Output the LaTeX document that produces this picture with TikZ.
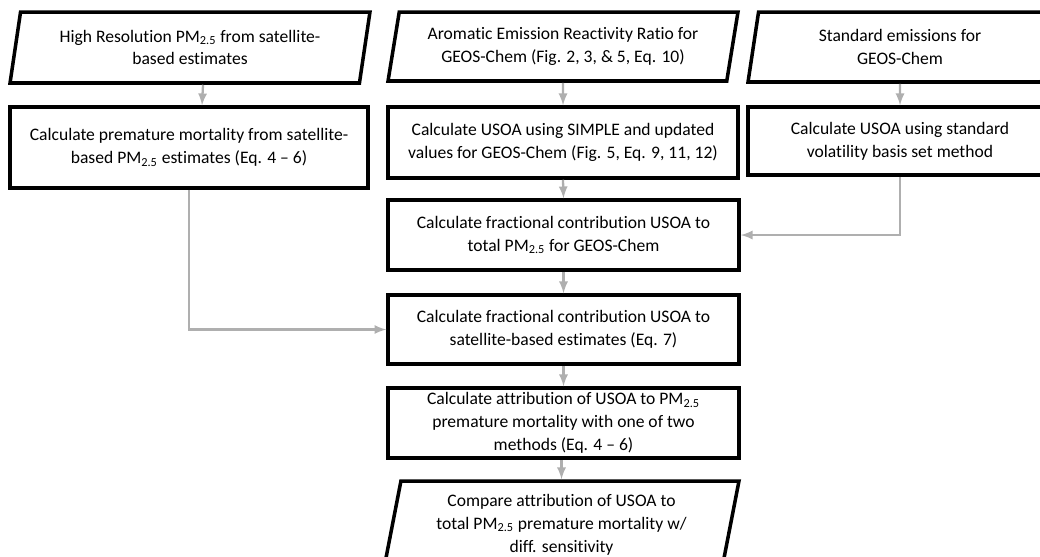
\documentclass[tikz,border=0pt]{standalone}
\usepackage{fontspec}
\setmainfont{Carlito}[Ligatures={NoCommon}]
\usepackage{tikz}
\usetikzlibrary{calc,shapes.geometric,arrows.meta,positioning}
\definecolor{arrowgray}{RGB}{175,175,175}
\tikzset{
  procbox/.style={rectangle,draw=black,line width=2pt,align=center,inner sep=2pt,font=\fontsize{10}{13}\selectfont},
  databox/.style={trapezium,trapezium left angle=76,trapezium right angle=104,trapezium stretches body,draw=black,line width=2pt,align=center,inner sep=2pt,font=\fontsize{10}{13}\selectfont},
  flow/.style={arrowgray,line width=1.3pt,-latex}
}

\begin{document}
\begin{tikzpicture}[x=0.02cm,y=-0.02cm]

		\useasboundingbox (0,0) rectangle (1040,556);

		% inputs
		\node[databox,minimum width=7.2cm,minimum height=1.42cm] (in1) at (190,47.5) {High Resolution PM\textsubscript{2.5} from satellite-\\based estimates};

		\node[databox,minimum width=7.0cm,minimum height=1.38cm] (in2) at (563,46.5) {Aromatic Emission Reactivity Ratio for\\GEOS-Chem (Fig. 2, 3, \& 5, Eq. 10)};

		\node[databox,minimum width=6.08cm,minimum height=1.4cm] (in3) at (900,47) {Standard emissions for\\GEOS-Chem};

		% first calculations
		\node[procbox,minimum width=7.16cm,minimum height=1.62cm] (calc1) at (189,147.5) {Calculate premature mortality from satellite-\\based PM\textsubscript{2.5} estimates (Eq. 4 -- 6)};

		\node[procbox,minimum width=7.0cm,minimum height=1.42cm] (calc2) at (563,142.5) {Calculate USOA using SIMPLE and updated\\values for GEOS-Chem (Fig. 5, Eq. 9, 11, 12)};

		\node[procbox,minimum width=6.08cm,minimum height=1.36cm] (calc3) at (900,141) {Calculate USOA using standard\\volatility basis set method};

		% main column
		\node[procbox,minimum width=7.02cm,minimum height=1.4cm] (frac1) at (563.5,235) {Calculate fractional contribution USOA to\\total PM\textsubscript{2.5} for GEOS-Chem};

		\node[procbox,minimum width=7.02cm,minimum height=1.38cm] (frac2) at (563.5,329.5) {Calculate fractional contribution USOA to\\satellite-based estimates (Eq. 7)};

		\node[procbox,minimum width=7.02cm,minimum height=1.4cm] (attr) at (563.5,423) {Calculate attribution of USOA to PM\textsubscript{2.5}\\premature mortality with one of two\\methods (Eq. 4 -- 6)};

		\node[databox,minimum width=7.1cm,minimum height=1.74cm] (cmp) at (561.5,524.5) {Compare attribution of USOA to\\total PM\textsubscript{2.5} premature mortality w/\\diff. sensitivity};

		% arrows
		\draw[flow] ([xshift=0.26cm]in1.south) -- ([xshift=0.26cm]calc1.north);
		\draw[flow] (in2.south) -- (calc2.north);
		\draw[flow] (in3.south) -- (calc3.north);
		\draw[flow] (calc2.south) -- (frac1.north);
		\draw[flow] (calc3.south) |- (frac1.east);
		\draw[flow] (frac1.south) -- (frac2.north);
		\draw[flow] (calc1.south) |- (frac2.west);
		\draw[flow] (frac2.south) -- (attr.north);
		\draw[flow] ([xshift=-0.04cm]attr.south) -- ([xshift=-0.04cm]attr.south |- cmp.north);

\end{tikzpicture}
\end{document}
